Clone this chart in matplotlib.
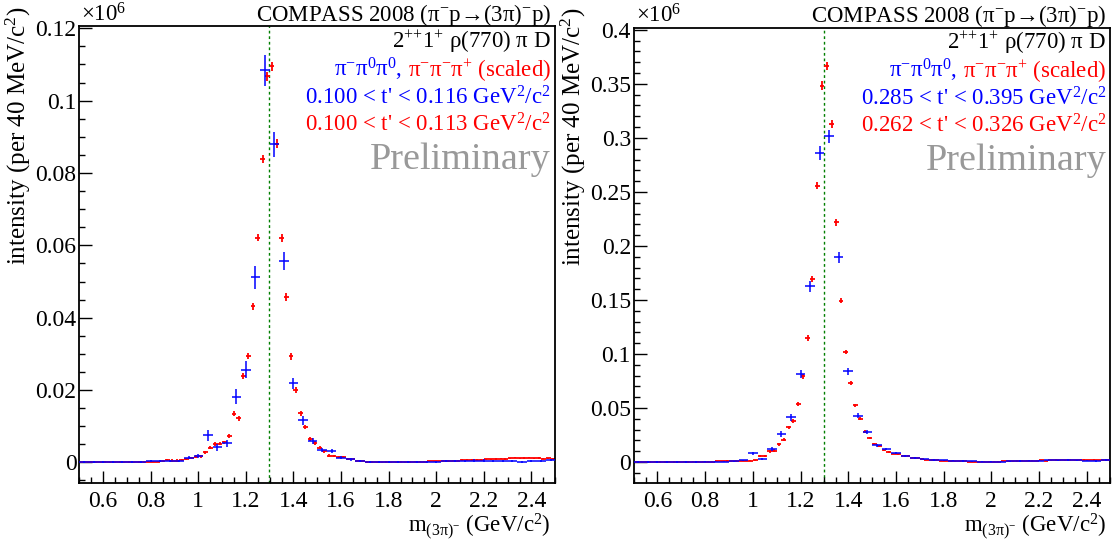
import matplotlib
matplotlib.use('Agg')
import matplotlib.pyplot as plt
import numpy as np
from matplotlib.ticker import MultipleLocator, FormatStrFormatter
from matplotlib.offsetbox import TextArea, HPacker, AnchoredOffsetbox

plt.rcParams['font.family'] = ['Liberation Serif', 'DejaVu Serif']
plt.rcParams['mathtext.fontset'] = 'custom'
plt.rcParams['mathtext.rm'] = 'Liberation Serif'
plt.rcParams['mathtext.default'] = 'regular'

# bin centres: pi- pi0 pi0 in 40 MeV bins, pi- pi- pi+ in 20 MeV bins
BLUE_M = np.arange(0.52, 2.49, 0.04)
RED_M = np.arange(0.51, 2.50, 0.02)

# intensities in units of 1e6
blue_left = [
    0.0000, 0.0000, 0.0000, 0.0000, 0.0001, 0.0000, 0.0000, 0.0003, 0.0003, 0.0004,
    0.0004, 0.0013, 0.0017, 0.0075, 0.0042, 0.0053, 0.0182, 0.0256, 0.0512, 0.1084,
    0.0879, 0.0557, 0.0219, 0.0116, 0.0059, 0.0035, 0.0031, 0.0013, 0.0009, 0.0003,
    0.0001, 0.0000, 0.0000, 0.0000, 0.0001, 0.0002, 0.0002, 0.0002, 0.0003, 0.0004,
    0.0004, 0.0005, 0.0005, 0.0003, 0.0004, 0.0003, 0.0001, 0.0003, 0.0004, 0.0006,
]
blue_left_err = [
    0.0003, 0.0003, 0.0003, 0.0003, 0.0003, 0.0003, 0.0003, 0.0003, 0.0003, 0.0003,
    0.0003, 0.0004, 0.0005, 0.0015, 0.0010, 0.0010, 0.0020, 0.0023, 0.0032, 0.0043,
    0.0035, 0.0025, 0.0015, 0.0012, 0.0008, 0.0006, 0.0005, 0.0004, 0.0004, 0.0003,
    0.0003, 0.0003, 0.0003, 0.0003, 0.0003, 0.0003, 0.0003, 0.0003, 0.0003, 0.0003,
    0.0003, 0.0003, 0.0003, 0.0003, 0.0003, 0.0003, 0.0003, 0.0003, 0.0003, 0.0003,
]
red_left = [
    0.0000, 0.0000, 0.0001, 0.0000, 0.0000, 0.0001, 0.0000, 0.0000, 0.0001, 0.0000,
    0.0001, 0.0000, 0.0001, 0.0001, 0.0002,
    0.0002, 0.0002, 0.0004, 0.0006, 0.0005, 0.0005, 0.0006, 0.0009, 0.0012, 0.0016,
    0.0017, 0.0028, 0.0041, 0.0051, 0.0052, 0.0055, 0.0073, 0.0134, 0.0122, 0.0238,
    0.0294, 0.0431, 0.0621, 0.0840, 0.1067, 0.1095, 0.0881, 0.0620, 0.0457, 0.0293,
    0.0201, 0.0136, 0.0097, 0.0064, 0.0053, 0.0041, 0.0031, 0.0019, 0.0017, 0.0014,
    0.0015, 0.0010, 0.0008, 0.0005, 0.0003, 0.0001, 0.0001, 0.0000, 0.0000, 0.0001,
    0.0000, 0.0000, 0.0001, 0.0000, 0.0001, 0.0002, 0.0002, 0.0002, 0.0003, 0.0003,
    0.0003, 0.0004, 0.0004, 0.0005, 0.0005, 0.0006, 0.0006, 0.0007, 0.0006, 0.0007,
    0.0008, 0.0008, 0.0009, 0.0010, 0.0009, 0.0011, 0.0013, 0.0011, 0.0012, 0.0013,
    0.0011, 0.0012, 0.0010, 0.0011, 0.0010,
]
red_left_err = [
    0.0002, 0.0002, 0.0002, 0.0002, 0.0002, 0.0002, 0.0002, 0.0002, 0.0002, 0.0002,
    0.0002, 0.0002, 0.0002, 0.0002, 0.0002,
    0.0002, 0.0002, 0.0003, 0.0003, 0.0003, 0.0003, 0.0003, 0.0003, 0.0004, 0.0004,
    0.0004, 0.0004, 0.0005, 0.0005, 0.0005, 0.0005, 0.0006, 0.0007, 0.0007, 0.0008,
    0.0008, 0.0009, 0.0010, 0.0011, 0.0012, 0.0012, 0.0012, 0.0011, 0.0010, 0.0009,
    0.0008, 0.0007, 0.0006, 0.0005, 0.0005, 0.0004, 0.0004, 0.0003, 0.0003, 0.0003,
    0.0003, 0.0003, 0.0002, 0.0002, 0.0002, 0.0002, 0.0002, 0.0002, 0.0002, 0.0002,
    0.0002, 0.0002, 0.0002, 0.0002, 0.0002, 0.0002, 0.0002, 0.0002, 0.0002, 0.0002,
    0.0002, 0.0002, 0.0002, 0.0002, 0.0002, 0.0002, 0.0002, 0.0002, 0.0002, 0.0002,
    0.0002, 0.0002, 0.0002, 0.0002, 0.0002, 0.0002, 0.0002, 0.0002, 0.0002, 0.0002,
    0.0002, 0.0002, 0.0002, 0.0002, 0.0002,
]

blue_right = [
    0.0000, 0.0000, 0.0000, 0.0000, 0.0000, 0.0001, 0.0000, 0.0002, 0.0003, 0.0004,
    0.0006, 0.0015, 0.0080, 0.0028, 0.0120, 0.0259, 0.0413, 0.0815, 0.1626, 0.2861,
    0.3015, 0.1894, 0.0839, 0.0429, 0.0281, 0.0154, 0.0120, 0.0080, 0.0058, 0.0037,
    0.0025, 0.0018, 0.0016, 0.0012, 0.0008, 0.0005, 0.0003, 0.0003, 0.0004, 0.0006,
    0.0010, 0.0012, 0.0014, 0.0015, 0.0016, 0.0017, 0.0016, 0.0013, 0.0010, 0.0017,
]
blue_right_err = [
    0.0006, 0.0006, 0.0006, 0.0006, 0.0006, 0.0006, 0.0006, 0.0006, 0.0006, 0.0006,
    0.0007, 0.0008, 0.0012, 0.0012, 0.0016, 0.0025, 0.0030, 0.0040, 0.0050, 0.0068,
    0.0060, 0.0050, 0.0032, 0.0025, 0.0020, 0.0015, 0.0012, 0.0010, 0.0009, 0.0008,
    0.0007, 0.0007, 0.0007, 0.0007, 0.0007, 0.0007, 0.0007, 0.0007, 0.0007, 0.0007,
    0.0007, 0.0007, 0.0007, 0.0007, 0.0007, 0.0007, 0.0007, 0.0007, 0.0007, 0.0007,
]
red_right = [
    0.0000, 0.0000, 0.0000, 0.0000, 0.0001, 0.0000, 0.0000, 0.0001, 0.0000, 0.0001,
    0.0001, 0.0000, 0.0002, 0.0002, 0.0002,
    0.0003, 0.0003, 0.0005, 0.0007, 0.0009, 0.0008, 0.0010, 0.0011, 0.0012, 0.0013,
    0.0015, 0.0056, 0.0058, 0.0098, 0.0105, 0.0166, 0.0206, 0.0321, 0.0376, 0.0540,
    0.0793, 0.1148, 0.1694, 0.2558, 0.3484, 0.3663, 0.3130, 0.2219, 0.1494, 0.1018,
    0.0731, 0.0524, 0.0401, 0.0282, 0.0225, 0.0169, 0.0149, 0.0111, 0.0093, 0.0077,
    0.0070, 0.0060, 0.0058, 0.0040, 0.0035, 0.0027, 0.0022, 0.0018, 0.0016, 0.0014,
    0.0012, 0.0010, 0.0008, 0.0006, 0.0005, 0.0004, 0.0003, 0.0003, 0.0003, 0.0003,
    0.0004, 0.0004, 0.0005, 0.0006, 0.0008, 0.0009, 0.0011, 0.0012, 0.0011, 0.0013,
    0.0015, 0.0014, 0.0016, 0.0018, 0.0016, 0.0017, 0.0019, 0.0017, 0.0016, 0.0018,
    0.0017, 0.0019, 0.0016, 0.0017, 0.0018,
]
red_right_err = [
    0.0005, 0.0005, 0.0005, 0.0005, 0.0005, 0.0005, 0.0005, 0.0005, 0.0005, 0.0005,
    0.0005, 0.0005, 0.0005, 0.0005, 0.0005,
    0.0006, 0.0006, 0.0006, 0.0006, 0.0006, 0.0006, 0.0006, 0.0006, 0.0006, 0.0006,
    0.0008, 0.0010, 0.0010, 0.0012, 0.0012, 0.0014, 0.0015, 0.0017, 0.0018, 0.0020,
    0.0023, 0.0026, 0.0030, 0.0034, 0.0038, 0.0038, 0.0036, 0.0031, 0.0026, 0.0022,
    0.0019, 0.0016, 0.0014, 0.0012, 0.0011, 0.0010, 0.0009, 0.0008, 0.0008, 0.0007,
    0.0007, 0.0007, 0.0006, 0.0006, 0.0006, 0.0006, 0.0006, 0.0006, 0.0006, 0.0006,
    0.0006, 0.0006, 0.0006, 0.0006, 0.0006, 0.0006, 0.0006, 0.0006, 0.0006, 0.0006,
    0.0006, 0.0006, 0.0006, 0.0006, 0.0006, 0.0006, 0.0006, 0.0006, 0.0006, 0.0006,
    0.0006, 0.0006, 0.0006, 0.0006, 0.0006, 0.0006, 0.0006, 0.0006, 0.0006, 0.0006,
    0.0006, 0.0006, 0.0006, 0.0006, 0.0006,
]

TITLE = r'COMPASS 2008 ($\pi^{-}$p→(3$\pi$)$^{-}$p)'
WAVE = r'2$^{{+}{+}}$1$^{+}$ $\rho$(770) $\pi$ D'
BLUE_NAME = r'$\pi^{-}\pi^{0}\pi^{0}$,'
RED_NAME = r'$\pi^{-}\pi^{-}\pi^{+}$ (scaled)'
T_BINS = [
    (r"0.100 < t' < 0.116 GeV$^{2}$/c$^{2}$", r"0.100 < t' < 0.113 GeV$^{2}$/c$^{2}$"),
    (r"0.285 < t' < 0.395 GeV$^{2}$/c$^{2}$", r"0.262 < t' < 0.326 GeV$^{2}$/c$^{2}$"),
]
MASS_LINE = 1.297

PANELS = [
    dict(rect=[0.0711, 0.1105, 0.4269, 0.8407], blue=blue_left, blue_err=blue_left_err,
         red=red_left, red_err=red_left_err, ylim=(-0.0057, 0.1205), major=0.02, minor=0.005,
         tbins=T_BINS[0]),
    dict(rect=[0.5683, 0.1105, 0.4276, 0.8385], blue=blue_right, blue_err=blue_right_err,
         red=red_right, red_err=red_right_err, ylim=(-0.0194, 0.402), major=0.05, minor=0.01,
         tbins=T_BINS[1]),
]

BLUE = '#0000ff'
RED = '#ff0000'
FS = 16.5

fig = plt.figure(figsize=(11.15, 5.43), dpi=100)

for p in PANELS:
    ax = fig.add_axes(p['rect'])
    ax.axvline(MASS_LINE, color='#007f00', lw=1.0, ls=(0, (2, 2)), zorder=1)
    ax.errorbar(RED_M, p['red'], xerr=0.01, yerr=p['red_err'], fmt='none',
                ecolor=RED, elinewidth=1.3, zorder=2)
    ax.errorbar(BLUE_M, p['blue'], xerr=0.02, yerr=p['blue_err'], fmt='none',
                ecolor=BLUE, elinewidth=1.1, zorder=3)

    ax.set_xlim(0.5, 2.5)
    ax.set_ylim(*p['ylim'])
    ax.xaxis.set_major_locator(MultipleLocator(0.2))
    ax.xaxis.set_minor_locator(MultipleLocator(0.05))
    ax.yaxis.set_major_locator(MultipleLocator(p['major']))
    ax.yaxis.set_minor_locator(MultipleLocator(p['minor']))
    ax.xaxis.set_major_formatter(FormatStrFormatter('%g'))
    ax.yaxis.set_major_formatter(FormatStrFormatter('%g'))
    ax.tick_params(which='both', direction='in', top=False, right=False, labelsize=17)
    ax.tick_params(which='major', length=9, width=1.0)
    ax.tick_params(which='minor', length=4.5, width=1.0)
    ax.tick_params(axis='x', pad=6)
    ax.tick_params(axis='y', pad=2)
    for s in ax.spines.values():
        s.set_linewidth(1.3)

    ax.text(0.004, 1.026, r'$\times$10$^{6}$', transform=ax.transAxes, ha='left',
            va='center', fontsize=FS)
    ax.text(0.991, 1.026, TITLE, transform=ax.transAxes, ha='right', va='center', fontsize=FS)
    ax.text(0.991, 0.967, WAVE, transform=ax.transAxes, ha='right', va='center', fontsize=FS)

    names = HPacker(children=[TextArea(BLUE_NAME, textprops=dict(color=BLUE, fontsize=FS)),
                              TextArea(RED_NAME, textprops=dict(color=RED, fontsize=FS))],
                    align='baseline', pad=0, sep=4)
    ax.add_artist(AnchoredOffsetbox(loc='center right', child=names, pad=0, borderpad=0,
                                    frameon=False, bbox_to_anchor=(0.991, 0.905),
                                    bbox_transform=ax.transAxes))
    ax.text(0.991, 0.843, p['tbins'][0], transform=ax.transAxes, ha='right', va='center',
            fontsize=FS, color=BLUE)
    ax.text(0.991, 0.784, p['tbins'][1], transform=ax.transAxes, ha='right', va='center',
            fontsize=FS, color=RED)
    ax.text(0.991, 0.708, 'Preliminary', transform=ax.transAxes, ha='right', va='center',
            fontsize=27.5, color='#999999')

    ax.text(-0.127, 1.043, r'intensity (per 40 MeV/c$^{2}$)', transform=ax.transAxes,
            rotation=90, ha='center', va='top', fontsize=18)
    ax.text(0.991, -0.096, r'm$_{(3\pi)^{-}}$ (GeV/c$^{2}$)', transform=ax.transAxes,
            ha='right', va='center', fontsize=FS)

fig.savefig('out.png', dpi=100)
